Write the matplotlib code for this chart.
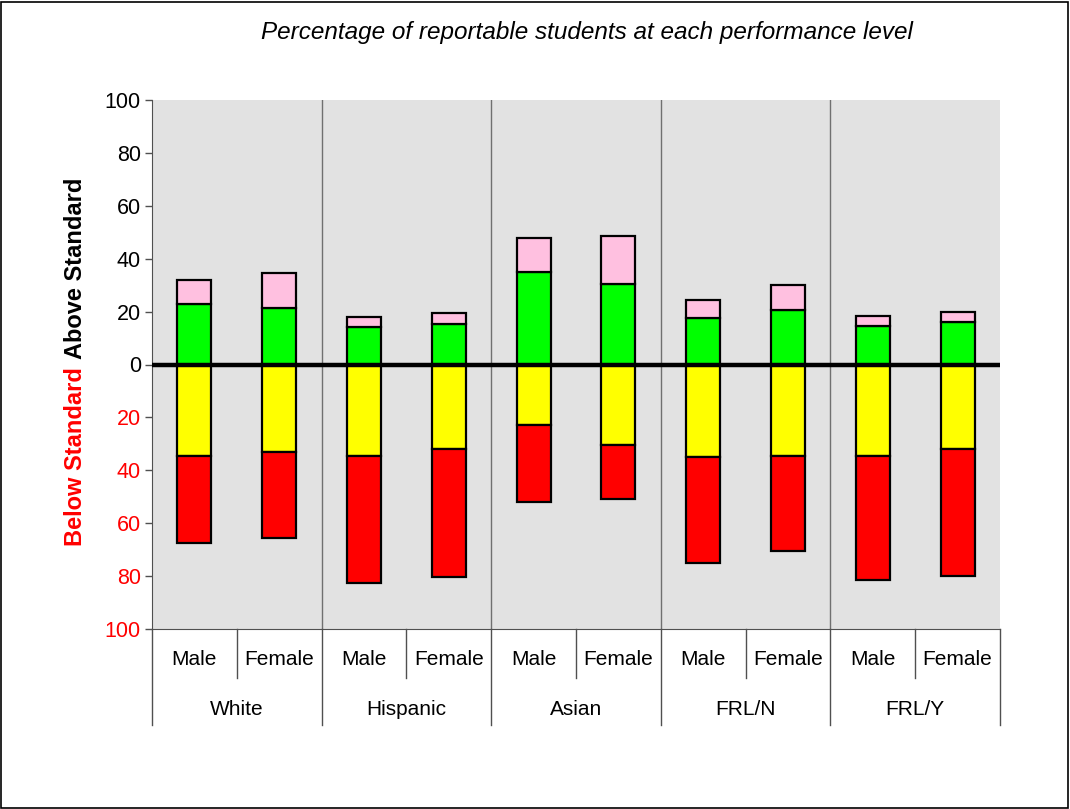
import matplotlib
matplotlib.use("Agg")
import matplotlib.pyplot as plt
import matplotlib.transforms as mtransforms
from matplotlib.patches import Rectangle
import numpy as np

groups = ["White", "Hispanic", "Asian", "FRL/N", "FRL/Y"]
genders = ["Male", "Female"]
# Above standard (percent)
meets = [23, 21.5, 14, 15.5, 35, 30.5, 17.5, 20.5, 14.5, 16]
exceeds = [9, 13, 4, 4, 13, 18, 7, 9.5, 4, 4]
# Below standard (percent)
approaches = [34.5, 33, 34.5, 32, 23, 30.5, 35, 34.5, 34.5, 32]
well_below = [33, 32.5, 48, 48.5, 29, 20.5, 40, 36, 47, 48]
yticks = [-100, -80, -60, -40, -20, 0, 20, 40, 60, 80, 100]

plt.rcParams['font.family'] = ['Liberation Sans', 'DejaVu Sans']

fig = plt.figure(figsize=(10.7, 8.09), dpi=100)
ax = fig.add_axes([152/1070, 1-629/809, (1000-152)/1070, (629-100)/809])
ax.set_facecolor('#e2e2e2')

n = len(meets)
x = np.arange(n) + 0.5
w = 0.4
kw = dict(width=w, edgecolor='black', linewidth=1.6, zorder=3)
ax.bar(x, meets, color='#00ff00', **kw)
ax.bar(x, exceeds, bottom=meets, color='#ffc0e0', **kw)
ax.bar(x, [-v for v in approaches], color='#ffff00', **kw)
ax.bar(x, [-v for v in well_below], bottom=[-v for v in approaches], color='#ff0000', **kw)

ax.set_xlim(0, n)
ax.set_ylim(-100, 100)
ax.axhline(0, color='black', linewidth=3.2, zorder=4)

# group separators
for g in range(1, len(groups)):
    ax.axvline(2*g, color='#707070', linewidth=1.0, zorder=1)

for s in ['top', 'right']:
    ax.spines[s].set_visible(False)
ax.spines['bottom'].set_color('#505050')
ax.spines['left'].set_color('#505050')

ax.set_yticks(yticks)
ax.set_yticklabels([str(abs(v)) for v in yticks], fontsize=15.5)
for lab, v in zip(ax.get_yticklabels(), yticks):
    lab.set_color('red' if v < 0 else 'black')
ax.tick_params(axis='y', length=5, width=1, color='#505050', pad=3)
ax.set_xticks([])

trans = mtransforms.blended_transform_factory(ax.transData, ax.transAxes)
# category labels
for i in range(n):
    ax.text(x[i], -0.0586, genders[i % 2], transform=trans, ha='center', va='center', fontsize=15)
for g, name in enumerate(groups):
    ax.text(2*g + 1, -0.153, name, transform=trans, ha='center', va='center', fontsize=15)
for g in range(len(groups) + 1):
    ax.plot([2*g, 2*g], [0, -0.1815], transform=trans, color='#505050', lw=1.0, clip_on=False)
for g in range(len(groups)):
    ax.plot([2*g + 1, 2*g + 1], [0, -0.0926], transform=trans, color='#505050', lw=1.0, clip_on=False)

# title
fig.text(587/1070, 1-33/809, "Percentage of reportable students at each performance level",
         ha='center', va='center', fontsize=17.5, style='italic')

# y label
fig.text(75/1070, 1-457/809, "Below Standard", rotation=90, color='red', fontweight='bold',
         fontsize=17, ha='center', va='center')
fig.text(75/1070, 1-268/809, "Above Standard", rotation=90, color='black', fontweight='bold',
         fontsize=17, ha='center', va='center')

# figure border
fig.patches.append(Rectangle((0.001, 0.001), 0.997, 0.997, transform=fig.transFigure,
                             fill=False, edgecolor='black', linewidth=1.2))

fig.savefig("out.png", dpi=100)
